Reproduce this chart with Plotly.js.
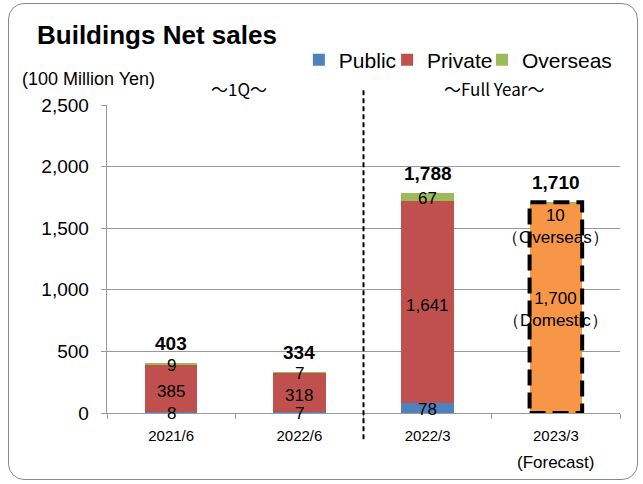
<!DOCTYPE html>
<html><head><meta charset="utf-8">
<script src="https://cdn.plot.ly/plotly-3.0.1.min.js"></script>
<style>
html,body{margin:0;padding:0;background:#fff;}
#wrap{position:relative;width:643px;height:484px;overflow:hidden;}
#frame{position:absolute;left:8px;top:3px;width:630px;height:477px;border:1.3px solid #8a8a8a;border-radius:16px;box-sizing:border-box;pointer-events:none;}
#chart{position:absolute;left:0;top:0;width:643px;height:484px;}
</style></head>
<body><div id="wrap"><div id="chart"></div><div id="frame"></div></div>
<script>
const categories = ["2021/6", "2022/6", "2022/3", "2023/3"];
const publicVals = [8, 7, 78, null];
const privateVals = [385, 318, 1641, null];
const domesticVals = [null, null, null, 1700];
const overseasVals = [9, 7, 67, 10];
const totals = [403, 334, 1788, 1710];
const publicLabels = ["8", "7", "78", ""];
const privateLabels = ["385", "318", "1,641", ""];
const overseasLabels = ["9", "7", "67", ""];
const totalLabels = ["403", "334", "1,788", "1,710"];
const yTicks = [0, 500, 1000, 1500, 2000, 2500];
const yTickLabels = ["0", "500", "1,000", "1,500", "2,000", "2,500"];

const colors = {pub: "#4F81BD", priv: "#C0504D", dom: "#F79646", ovs: "#9BBB59"};
const F = "Liberation Sans, Arial, sans-serif";
const CJK = "Noto Sans CJK JP, Liberation Sans, sans-serif";

const traces = [
  {type: "bar", name: "Public", x: categories, y: publicVals, marker: {color: colors.pub}, legend: "legend"},
  {type: "bar", name: "Private", x: categories, y: privateVals, marker: {color: colors.priv}, legend: "legend2"},
  {type: "bar", name: "Domestic", x: categories, y: domesticVals, marker: {color: colors.dom}, showlegend: false},
  {type: "bar", name: "Overseas", x: categories, y: overseasVals, marker: {color: colors.ovs}, legend: "legend3"}
];
traces.forEach(t => { t.hoverinfo = "skip"; });

const ann = [];
const lblFont = {family: F, size: 17, color: "#000"};
categories.forEach((c, i) => {
  const p = publicVals[i] || 0, r = privateVals[i] || 0, d = domesticVals[i] || 0, o = overseasVals[i] || 0;
  if (publicLabels[i]) ann.push({x: c, y: p / 2, text: publicLabels[i], showarrow: false, font: lblFont, yshift: -1});
  if (privateLabels[i]) ann.push({x: c, y: p + r / 2, text: privateLabels[i], showarrow: false, font: lblFont, yshift: -3});
  if (overseasLabels[i]) ann.push({x: c, y: p + r + d + o / 2, text: overseasLabels[i], showarrow: false, font: lblFont, yshift: -1});
  ann.push({x: c, y: totals[i], text: "<b>" + totalLabels[i] + "</b>", showarrow: false, yanchor: "bottom", yshift: 7,
            font: {family: F, size: 19, color: "#000"}});
});
// forecast labels
ann.push({x: categories[3], y: domesticVals[3] + overseasVals[3], yanchor: "top", yshift: -2, showarrow: false,
          text: "10<br>（Overseas）", font: lblFont});
ann.push({x: categories[3], y: domesticVals[3] / 2, showarrow: false, yshift: -1,
          text: "1,700<br>（Domestic）", font: lblFont});
// paper texts
ann.push({xref: "paper", yref: "paper", x: -0.14, y: 1.227, xanchor: "left", yanchor: "middle", showarrow: false,
          text: "<b>Buildings Net sales</b>", font: {family: F, size: 26, color: "#000"}});
ann.push({xref: "paper", yref: "paper", x: -0.17, y: 1.085, xanchor: "left", yanchor: "middle", showarrow: false,
          text: "(100 Million Yen)", font: {family: F, size: 18, color: "#000"}});
ann.push({xref: "paper", yref: "paper", x: 0.258, y: 1.052, xanchor: "center", yanchor: "middle", showarrow: false,
          text: "～1Q～", font: {family: CJK, size: 17, color: "#000"}});
ann.push({xref: "paper", yref: "paper", x: 0.755, y: 1.052, xanchor: "center", yanchor: "middle", showarrow: false,
          text: "～Full Year～", font: {family: CJK, size: 17, color: "#000"}});
ann.push({x: categories[3], yref: "paper", y: -0.162, yanchor: "middle", showarrow: false,
          text: "(Forecast)", font: {family: F, size: 17, color: "#000"}});

const halfW = 0.205;
const shapes = [
  {type: "line", xref: "x", yref: "paper", x0: 1.5, x1: 1.5, y0: -0.085, y1: 1.055,
   line: {color: "#000", width: 2, dash: "5px,3px"}},
  {type: "rect", xref: "x", yref: "y", x0: 3 - halfW, x1: 3 + halfW, y0: 0, y1: totals[3],
   line: {color: "#000", width: 4, dash: "16px,7px"}, fillcolor: "rgba(0,0,0,0)", layer: "above"}
];

const legBase = {orientation: "h", xanchor: "left", y: 1.146, yanchor: "middle",
                 font: {family: F, size: 21, color: "#000"}, itemwidth: 30, bgcolor: "rgba(0,0,0,0)"};

const layout = {
  width: 643, height: 484,
  margin: {l: 107, r: 23, t: 105, b: 71},
  paper_bgcolor: "#fff", plot_bgcolor: "#fff",
  barmode: "stack", bargap: 0.59,
  font: {family: F, color: "#000"},
  showlegend: true,
  legend: Object.assign({}, legBase, {x: 0.374}),
  legend2: Object.assign({}, legBase, {x: 0.546}),
  legend3: Object.assign({}, legBase, {x: 0.731}),
  xaxis: {type: "category", categoryorder: "array", categoryarray: categories,
          showline: true, linecolor: "#9a9a9a", linewidth: 1.3,
          ticks: "outside", tickson: "boundaries", ticklen: 5, tickcolor: "#9a9a9a",
          ticklabelstandoff: 9,
          tickfont: {family: F, size: 15, color: "#000"}, showgrid: false, fixedrange: true},
  yaxis: {range: [0, 2500], tickvals: yTicks, ticktext: yTickLabels,
          showline: true, linecolor: "#9a9a9a", linewidth: 1.3,
          ticks: "outside", ticklen: 5, tickcolor: "#9a9a9a", ticklabelstandoff: 8,
          showgrid: true, gridcolor: "#9a9a9a", gridwidth: 1.3, zeroline: false,
          tickfont: {family: F, size: 19, color: "#000"}, fixedrange: true},
  annotations: ann,
  shapes: shapes
};

Plotly.newPlot("chart", traces, layout, {displayModeBar: false, staticPlot: true});
</script></body></html>
